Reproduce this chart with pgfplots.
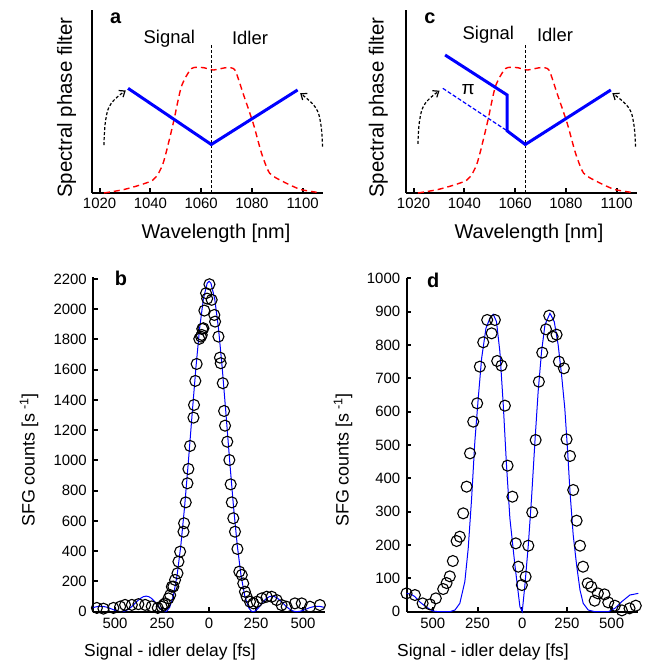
\documentclass[border=0pt]{standalone}
\usepackage{fontspec}
\setmainfont{Liberation Sans}
\usepackage{pgfplots}
\pgfplotsset{compat=1.18}
\usetikzlibrary{arrows.meta}

\definecolor{fitblue}{RGB}{0,0,255}
\definecolor{specred}{RGB}{255,0,0}

\pgfplotsset{
  panel/.style={
    scale only axis, anchor=south west,
    axis lines*=left,
    axis line style={line width=2.2bp, black},
    tick align=inside, major tick length=4.5bp,
    every tick/.style={line width=2bp, black},
    ticklabel style={font=\fontsize{15}{15}\selectfont},
    /pgf/number format/assume math mode=true,
    /pgf/number format/1000 sep={},
    clip=false,
  },
  toppanel/.style={
    panel, width=231bp, height=183bp,
    xmin=1017, xmax=1108, ymin=0, ymax=1,
    xtick={1020,1040,1060,1080,1100}, ytick=\empty,
    xticklabel style={yshift=-2bp},
  },
  botpanel/.style={
    panel,
    xtick={-500,-250,0,250,500}, xticklabels={500,250,0,250,500},
    xticklabel style={yshift=-3bp},
    yticklabel style={xshift=-3bp},
  },
  spec/.style={specred, line width=1.4bp, dash pattern=on 6bp off 4bp, smooth, tension=0.4},
  cut/.style={black, line width=0.8bp, dash pattern=on 3bp off 2bp},
  turn/.style={black, line width=1.2bp, dash pattern=on 3bp off 2bp, smooth, tension=0.7,
    -{Straight Barb[length=5bp,width=8bp,line width=1.2bp]}},
  pts/.style={only marks, mark=o, mark size=5.5bp, mark options={black, line width=1.1bp}},
  fit/.style={fitblue, line width=1bp},
}

\newcommand{\spectrum}{
  \addplot[spec] coordinates {
    (1021.7,0) (1030.5,0.022) (1041,0.071) (1045,0.162) (1049,0.381)
    (1052.2,0.581) (1056.2,0.68) (1060.8,0.685) (1064.7,0.672) (1070,0.685)
    (1073.3,0.672) (1076.5,0.545) (1080.5,0.381) (1083.8,0.217) (1087,0.108)
    (1092.3,0.062) (1099,0.02) (1105.5,0.004)
  };
  \addplot[cut] coordinates {(1064,0) (1064,0.809)};
}

\begin{document}
\begin{tikzpicture}
\useasboundingbox (0bp,0bp) rectangle (649bp,669bp);

% a
\begin{axis}[toppanel, at={(92bp,476bp)}]
  \spectrum
  \addplot[fitblue, line width=3bp] coordinates {(1031.2,0.572) (1064,0.265) (1098,0.563)};
  \addplot[turn] coordinates {(1021.7,0.262) (1022.4,0.40) (1024.6,0.49) (1030.3,0.56)};
  \addplot[turn] coordinates {(1107.8,0.253) (1107.1,0.38) (1104.9,0.47) (1099,0.545)};
\end{axis}

% c
\begin{axis}[toppanel, at={(406bp,476bp)}]
  \spectrum
  \addplot[fitblue, line width=3bp] coordinates {(1032.4,0.754) (1056.8,0.536) (1056.8,0.340) (1064,0.265) (1097.7,0.563)};
  \addplot[fitblue, line width=1.2bp, dash pattern=on 4bp off 2bp] coordinates {(1031.5,0.572) (1056.8,0.340)};
  \addplot[turn] coordinates {(1021.7,0.268) (1022.4,0.40) (1024.6,0.49) (1030.2,0.559)};
  \addplot[turn] coordinates {(1107.4,0.253) (1106.7,0.38) (1104.5,0.47) (1098.3,0.545)};
  \node[font=\fontsize{19}{19}\selectfont] at (axis cs:1041.5,0.563) {π};
\end{axis}

% b
\begin{axis}[botpanel, at={(93.3bp,57.3bp)}, width=231.7bp, height=334.7bp,
  xmin=-616, xmax=617, ymin=0, ymax=2213, ytick={0,200,...,2200}]
  \addplot[fit] coordinates {
    (-616,27) (-605,31) (-590,35) (-575,36) (-560,34) (-545,30) (-530,24) (-515,16)
    (-500,9) (-485,3) (-468,0) (-455,2) (-440,8) (-425,20) (-410,35) (-395,54)
    (-380,72) (-365,88) (-350,99) (-335,103) (-320,99) (-305,87) (-290,68) (-275,44)
    (-260,21) (-245,4) (-234,0) (-225,3.5) (-210,28) (-190,104) (-170,241) (-150,440)
    (-130,696) (-110,993) (-90,1308) (-70,1613) (-50,1876) (-30,2069) (-10,2172) (0,2185)
    (10,2172) (30,2069) (50,1876) (70,1613) (90,1308) (110,993) (130,696) (150,440)
    (170,241) (190,104) (210,28) (225,3.5) (234,0) (245,4) (260,21) (275,44)
    (290,68) (305,87) (320,99) (335,103) (350,99) (365,88) (380,72) (395,54)
    (410,35) (425,20) (440,8) (455,2) (468,0) (485,3) (500,9) (515,16)
    (530,24) (545,30) (560,34) (575,36) (590,35) (605,31) (617,27)
  };
  \addplot[pts] coordinates {
    (-597,25) (-562,20) (-509,25) (-473,34) (-447,45) (-411,45) (-376,50) (-340,45)
    (-305,35) (-273,25) (-252,33) (-243,45) (-234,55) (-216,88) (-207,110) (-198,165)
    (-190,166) (-181,210) (-168,254) (-163,331) (-154,397) (-136,529) (-133,585) (-124,723)
    (-115,849) (-110,944) (-101,1096) (-83,1283) (-80,1367) (-73,1526) (-66,1638) (-52,1804)
    (-43,1819) (-39,1830) (-36,1870) (-30,1874) (-25,1991) (-16,2106) (-10,2070) (2,2165)
    (14,2062) (28,1962) (32,1918) (50,1819) (58,1680) (62,1643) (73,1511) (80,1327)
    (85,1230) (97,1124) (108,1003) (115,842) (121,723) (129,618) (138,529) (151,415)
    (161,265) (174,243) (182,187) (191,132) (200,99) (218,66) (236,55) (254,66)
    (280,88) (307,99) (333,99) (360,77) (386,44) (413,33) (457,55) (493,55)
    (537,33) (590,44)
  };
\end{axis}

% d
\begin{axis}[botpanel, at={(406.7bp,57.3bp)}, width=231.6bp, height=333.4bp,
  xmin=-646, xmax=649, ymin=0, ymax=1000, ytick={0,100,...,1000}]
  \addplot[fit] coordinates {
    (-646,55) (-620,52) (-600,45) (-570,28) (-539,15) (-510,5) (-497,2) (-470,0)
    (-405,0) (-376,5) (-349,25) (-321,90) (-302,190) (-283,340) (-265,510) (-246,640)
    (-227,760) (-203,850) (-181,880) (-162,892) (-144,870) (-125,780) (-106,620) (-88,440)
    (-69,280) (-41,140) (-13,15) (0,0) (15,80) (34,200) (52,340) (71,510)
    (89,660) (108,780) (127,860) (155,895) (179,870) (201,800) (220,710) (238,610)
    (254,480) (267,360) (285,230) (304,140) (323,65) (341,25) (369,5) (406,0)
    (481,0) (518,10) (556,30) (602,50) (649,55)
  };
  \addplot[pts] coordinates {
    (-647,55) (-600,50) (-557,25) (-516,22) (-483,40) (-442,68) (-423,86) (-405,106)
    (-388,152) (-367,212) (-349,225) (-330,295) (-311,375) (-292,475) (-274,570) (-252,625)
    (-237,735) (-218,808) (-196,875) (-171,835) (-153,875) (-140,752) (-116,738) (-97,618)
    (-82,438) (-55,345) (-36,205) (-22,135) (-2,80) (19,105) (34,198) (56,298)
    (75,515) (93,690) (112,777) (133,847) (151,888) (170,825) (192,831) (205,750)
    (233,730) (248,517) (267,467) (285,365) (304,273) (323,198) (340,135) (366,85)
    (386,75) (405,33) (423,55) (460,52) (481,28) (518,18) (557,4) (600,10)
    (635,18)
  };
\end{axis}

% panel letters and texts
\begin{scope}[x=1bp, y=1bp, every node/.style={inner sep=0pt}]
  \node[font=\fontsize{20}{20}\bfseries\selectfont] at (115.7,650.7) {a};
  \node[font=\fontsize{20}{20}\bfseries\selectfont] at (430,650.7) {c};
  \node[font=\fontsize{20}{20}\bfseries\selectfont] at (121,390.7) {b};
  \node[font=\fontsize{20}{20}\bfseries\selectfont] at (433.3,389) {d};
  \node[font=\fontsize{18.5}{18.5}\selectfont] at (169.3,630.7) {Signal};
  \node[font=\fontsize{18.5}{18.5}\selectfont] at (250,630.7) {Idler};
  \node[font=\fontsize{18.5}{18.5}\selectfont] at (488.3,634) {Signal};
  \node[font=\fontsize{18.5}{18.5}\selectfont] at (555,634) {Idler};
  \node[font=\fontsize{20}{20}\selectfont] at (216,435.7) {Wavelength [nm]};
  \node[font=\fontsize{20}{20}\selectfont] at (529,435.7) {Wavelength [nm]};
  \node[font=\fontsize{20.5}{20.5}\selectfont, rotate=90] at (66.7,561.5) {Spectral phase filter};
  \node[font=\fontsize{20.5}{20.5}\selectfont, rotate=90] at (378.3,561.5) {Spectral phase filter};
  \node[font=\fontsize{18}{18}\selectfont, rotate=90] at (29,209) {SFG counts [s\textsuperscript{ -1}]};
  \node[font=\fontsize{18}{18}\selectfont, rotate=90] at (343,209) {SFG counts [s\textsuperscript{ -1}]};
  \node[font=\fontsize{17.5}{17.5}\selectfont] at (170,17) {Signal - idler delay [fs]};
  \node[font=\fontsize{17.5}{17.5}\selectfont] at (483,17) {Signal - idler delay [fs]};
\end{scope}
\end{tikzpicture}
\end{document}
